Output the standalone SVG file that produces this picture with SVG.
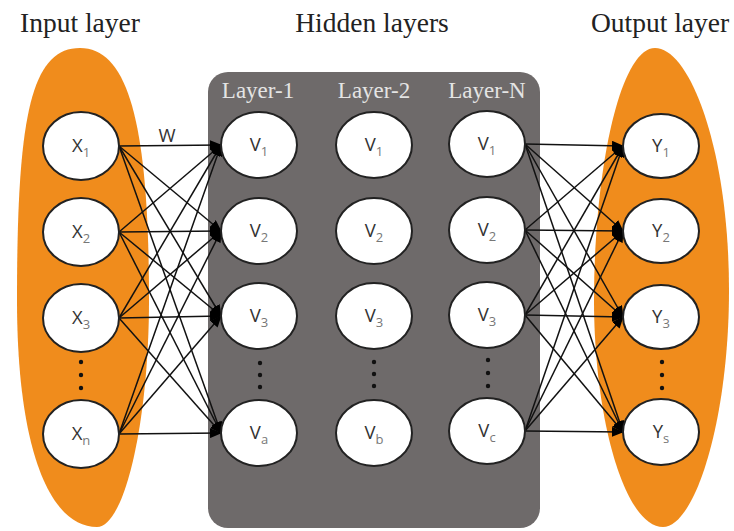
<svg xmlns="http://www.w3.org/2000/svg" width="734" height="531" viewBox="0 0 734 531">
<style>
.title{font-family:"Liberation Serif",serif;font-size:27.5px;fill:#222}
.layer{font-family:"Liberation Serif",serif;font-size:23px;fill:#e4e4e4}
.node ellipse{fill:#fff;stroke:#222;stroke-width:2}
.lbl{font-family:"Open Sans","Liberation Sans",sans-serif;font-size:18.5px;fill:#333}
.sub{font-size:13px;fill:#777}
.conn line{stroke:#111;stroke-width:1.5;marker-end:url(#ah)}
.dot{fill:#111}
.blob{fill:#f08c1c}
</style>
<defs>
<marker id="ah" markerWidth="12" markerHeight="10" refX="11" refY="5" orient="auto" markerUnits="userSpaceOnUse">
<path d="M0,0 L12,5 L0,10 Z" fill="#000"/>
</marker>
</defs>
<rect width="734" height="531" fill="#fff"/>
<text class="title" x="80" y="32" text-anchor="middle">Input layer</text>
<text class="title" x="372" y="32" text-anchor="middle">Hidden layers</text>
<text class="title" x="660" y="32" text-anchor="middle">Output layer</text>
<path id="input-bg" class="blob" d="M80,48 C130,48 149,130 149,300 C149,420 125,527 97,527 C50,527 17,450 17,300 C17,120 30,48 80,48 Z"/>
<path id="output-bg" class="blob" d="M655,48 C690,48 729,150 729,290 C729,420 695,527 663,527 C625,527 594,420 594,300 C594,170 620,48 655,48 Z"/>
<rect id="hidden-bg" x="208" y="72" width="332" height="456" rx="20" fill="#6e6a6a"/>
<text class="layer" x="258" y="98" text-anchor="middle">Layer-1</text>
<text class="layer" x="374" y="98" text-anchor="middle">Layer-2</text>
<text class="layer" x="487" y="98" text-anchor="middle">Layer-N</text>
<text class="lbl" x="167" y="142" text-anchor="middle">W</text>
<g id="connectors" class="conn">
<line x1="119" y1="146" x2="221" y2="145"/><line x1="119" y1="146" x2="221" y2="231"/><line x1="119" y1="146" x2="221" y2="316"/><line x1="119" y1="146" x2="221" y2="433"/>
<line x1="119" y1="232" x2="221" y2="145"/><line x1="119" y1="232" x2="221" y2="231"/><line x1="119" y1="232" x2="221" y2="316"/><line x1="119" y1="232" x2="221" y2="433"/>
<line x1="119" y1="318" x2="221" y2="145"/><line x1="119" y1="318" x2="221" y2="231"/><line x1="119" y1="318" x2="221" y2="316"/><line x1="119" y1="318" x2="221" y2="433"/>
<line x1="119" y1="434" x2="221" y2="145"/><line x1="119" y1="434" x2="221" y2="231"/><line x1="119" y1="434" x2="221" y2="316"/><line x1="119" y1="434" x2="221" y2="433"/>
<line x1="525" y1="144" x2="623" y2="146"/><line x1="525" y1="144" x2="623" y2="231"/><line x1="525" y1="144" x2="623" y2="317"/><line x1="525" y1="144" x2="623" y2="432"/>
<line x1="525" y1="230" x2="623" y2="146"/><line x1="525" y1="230" x2="623" y2="231"/><line x1="525" y1="230" x2="623" y2="317"/><line x1="525" y1="230" x2="623" y2="432"/>
<line x1="525" y1="315" x2="623" y2="146"/><line x1="525" y1="315" x2="623" y2="231"/><line x1="525" y1="315" x2="623" y2="317"/><line x1="525" y1="315" x2="623" y2="432"/>
<line x1="525" y1="431" x2="623" y2="146"/><line x1="525" y1="431" x2="623" y2="231"/><line x1="525" y1="431" x2="623" y2="317"/><line x1="525" y1="431" x2="623" y2="432"/>
</g>
<g id="x1" class="node"><ellipse cx="81" cy="146" rx="38" ry="34"/><text class="lbl" x="81" y="152" text-anchor="middle">X<tspan class="sub" dy="5">1</tspan></text></g>
<g id="x2" class="node"><ellipse cx="81" cy="232" rx="38" ry="34"/><text class="lbl" x="81" y="238" text-anchor="middle">X<tspan class="sub" dy="5">2</tspan></text></g>
<g id="x3" class="node"><ellipse cx="81" cy="318" rx="38" ry="34"/><text class="lbl" x="81" y="324" text-anchor="middle">X<tspan class="sub" dy="5">3</tspan></text></g>
<g id="xn" class="node"><ellipse cx="81" cy="434" rx="38" ry="34"/><text class="lbl" x="81" y="440" text-anchor="middle">X<tspan class="sub" dy="5">n</tspan></text></g>
<g id="l1v1" class="node"><ellipse cx="259" cy="145" rx="38" ry="33"/><text class="lbl" x="259" y="151" text-anchor="middle">V<tspan class="sub" dy="5">1</tspan></text></g>
<g id="l1v2" class="node"><ellipse cx="259" cy="231" rx="38" ry="33"/><text class="lbl" x="259" y="237" text-anchor="middle">V<tspan class="sub" dy="5">2</tspan></text></g>
<g id="l1v3" class="node"><ellipse cx="259" cy="316" rx="38" ry="33"/><text class="lbl" x="259" y="322" text-anchor="middle">V<tspan class="sub" dy="5">3</tspan></text></g>
<g id="l1va" class="node"><ellipse cx="259" cy="433" rx="38" ry="33"/><text class="lbl" x="259" y="439" text-anchor="middle">V<tspan class="sub" dy="5">a</tspan></text></g>
<g id="l2v1" class="node"><ellipse cx="374" cy="145" rx="38" ry="33"/><text class="lbl" x="374" y="151" text-anchor="middle">V<tspan class="sub" dy="5">1</tspan></text></g>
<g id="l2v2" class="node"><ellipse cx="374" cy="231" rx="38" ry="33"/><text class="lbl" x="374" y="237" text-anchor="middle">V<tspan class="sub" dy="5">2</tspan></text></g>
<g id="l2v3" class="node"><ellipse cx="374" cy="316" rx="38" ry="33"/><text class="lbl" x="374" y="322" text-anchor="middle">V<tspan class="sub" dy="5">3</tspan></text></g>
<g id="l2vb" class="node"><ellipse cx="374" cy="433" rx="38" ry="33"/><text class="lbl" x="374" y="439" text-anchor="middle">V<tspan class="sub" dy="5">b</tspan></text></g>
<g id="lnv1" class="node"><ellipse cx="487" cy="144" rx="38" ry="33"/><text class="lbl" x="487" y="150" text-anchor="middle">V<tspan class="sub" dy="5">1</tspan></text></g>
<g id="lnv2" class="node"><ellipse cx="487" cy="230" rx="38" ry="33"/><text class="lbl" x="487" y="236" text-anchor="middle">V<tspan class="sub" dy="5">2</tspan></text></g>
<g id="lnv3" class="node"><ellipse cx="487" cy="315" rx="38" ry="33"/><text class="lbl" x="487" y="321" text-anchor="middle">V<tspan class="sub" dy="5">3</tspan></text></g>
<g id="lnvc" class="node"><ellipse cx="487" cy="431" rx="38" ry="33"/><text class="lbl" x="487" y="437" text-anchor="middle">V<tspan class="sub" dy="5">c</tspan></text></g>
<g id="y1" class="node"><ellipse cx="661" cy="146" rx="38" ry="32"/><text class="lbl" x="661" y="152" text-anchor="middle">Y<tspan class="sub" dy="5">1</tspan></text></g>
<g id="y2" class="node"><ellipse cx="661" cy="231" rx="38" ry="32"/><text class="lbl" x="661" y="237" text-anchor="middle">Y<tspan class="sub" dy="5">2</tspan></text></g>
<g id="y3" class="node"><ellipse cx="661" cy="317" rx="38" ry="32"/><text class="lbl" x="661" y="323" text-anchor="middle">Y<tspan class="sub" dy="5">3</tspan></text></g>
<g id="ys" class="node"><ellipse cx="661" cy="432" rx="38" ry="33"/><text class="lbl" x="661" y="438" text-anchor="middle">Y<tspan class="sub" dy="5">s</tspan></text></g>
<g id="dots">
<circle class="dot" cx="81" cy="362" r="2.2"/><circle class="dot" cx="81" cy="375" r="2.2"/><circle class="dot" cx="81" cy="388" r="2.2"/>
<circle class="dot" cx="260" cy="363" r="2.2"/><circle class="dot" cx="260" cy="375" r="2.2"/><circle class="dot" cx="260" cy="387" r="2.2"/>
<circle class="dot" cx="374" cy="362" r="2.2"/><circle class="dot" cx="374" cy="374" r="2.2"/><circle class="dot" cx="374" cy="386" r="2.2"/>
<circle class="dot" cx="488" cy="360" r="2.2"/><circle class="dot" cx="488" cy="373" r="2.2"/><circle class="dot" cx="488" cy="386" r="2.2"/>
<circle class="dot" cx="662" cy="362" r="2.2"/><circle class="dot" cx="662" cy="375" r="2.2"/><circle class="dot" cx="662" cy="388" r="2.2"/>
</g>
</svg>
